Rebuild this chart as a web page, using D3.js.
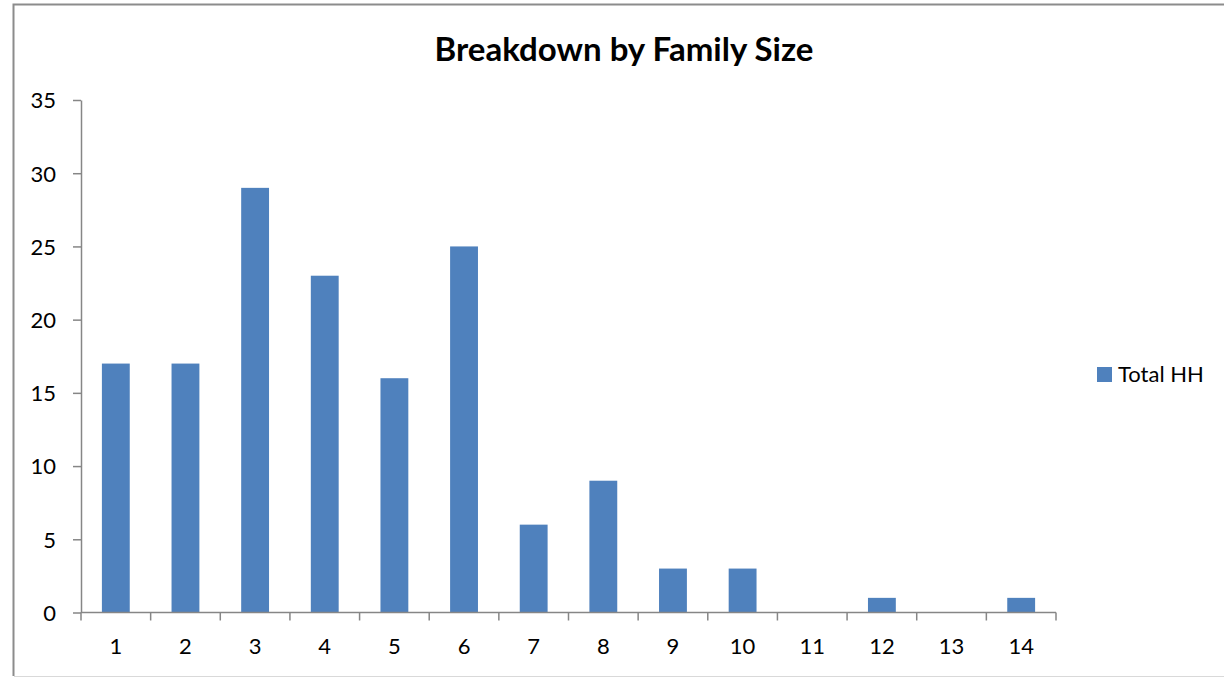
<!DOCTYPE html>
<html lang="en">
<head>
  <meta charset="UTF-8">
  <title>Breakdown by Family Size</title>
  <script src="https://d3js.org/d3.v7.min.js"></script>
  <style>
    body { margin: 0; background: #fff; }
    svg text { font-family: Lato, "Open Sans", sans-serif; fill: #000; }
  </style>
</head>
<body>
  <div id="chart"></div>
  <script>
    // family sizes and household counts
    const familySizes = ['1', '2', '3', '4', '5', '6', '7', '8', '9', '10', '11', '12', '13', '14'];
    const totalHH = [17, 17, 29, 23, 16, 25, 6, 9, 3, 3, 0, 1, 0, 1];
    const yTicks = [0, 5, 10, 15, 20, 25, 30, 35];
    const seriesName = 'Total HH';

    const width = 1224, height = 677;
    const margin = { left: 81, right: 168, top: 100, bottom: 64.5 };

    const svg = d3.select('#chart')
      .append('svg')
      .attr('width', width)
      .attr('height', height);

    // outer chart frame
    svg.append('path')
      .attr('d', `M1224,4.5 H13.5 V676`)
      .attr('fill', 'none')
      .attr('stroke', '#8c8c8c')
      .attr('stroke-width', 2);
    svg.append('line')
      .attr('x1', 14).attr('x2', 1224)
      .attr('y1', 676.5).attr('y2', 676.5)
      .attr('stroke', '#d9d9d9');

    const x = d3.scaleBand()
      .domain(familySizes)
      .range([margin.left, width - margin.right])
      .paddingInner(0.6)
      .paddingOuter(0.3);

    const y = d3.scaleLinear()
      .domain([0, 35])
      .range([height - margin.bottom, margin.top]);

    // bars
    svg.selectAll('rect.bar')
      .data(totalHH)
      .enter()
      .append('rect')
      .attr('class', 'bar')
      .attr('x', (d, i) => x(familySizes[i]))
      .attr('y', d => y(d))
      .attr('width', x.bandwidth())
      .attr('height', d => y(0) - y(d))
      .attr('fill', '#4f81bd');

    // y axis
    const yAxis = svg.append('g')
      .attr('transform', `translate(${margin.left},0)`)
      .call(d3.axisLeft(y).tickValues(yTicks).tickSize(8).tickPadding(17).tickSizeOuter(0));
    yAxis.selectAll('text').style('font-size', '22px').attr('dy', '0.36em');
    yAxis.select('.domain').attr('stroke', '#868686').attr('stroke-width', 1.5);
    yAxis.selectAll('.tick line').attr('stroke', '#868686').attr('stroke-width', 1.5);

    // x axis with ticks between categories
    const xBoundaries = d3.range(familySizes.length + 1).map(i => margin.left + i * (width - margin.left - margin.right) / familySizes.length);
    const xAxis = svg.append('g')
      .attr('transform', `translate(0,${y(0)})`);
    xAxis.append('line')
      .attr('x1', margin.left).attr('x2', width - margin.right)
      .attr('stroke', '#868686').attr('stroke-width', 1.5);
    xAxis.selectAll('line.tick')
      .data(xBoundaries)
      .enter()
      .append('line')
      .attr('class', 'tick')
      .attr('x1', d => d).attr('x2', d => d)
      .attr('y1', 0).attr('y2', 8)
      .attr('stroke', '#868686').attr('stroke-width', 1.5);
    xAxis.selectAll('text')
      .data(familySizes)
      .enter()
      .append('text')
      .attr('x', d => x(d) + x.bandwidth() / 2)
      .attr('y', 41.5)
      .attr('text-anchor', 'middle')
      .style('font-size', '22px')
      .text(d => d);

    // title
    svg.append('text')
      .attr('x', 624)
      .attr('y', 61)
      .attr('text-anchor', 'middle')
      .style('font-size', '33px')
      .style('font-weight', 'bold')
      .text('Breakdown by Family Size');

    // legend
    const legend = svg.append('g').attr('transform', 'translate(1097,367)');
    legend.append('rect')
      .attr('width', 15).attr('height', 15)
      .attr('fill', '#4f81bd');
    legend.append('text')
      .attr('x', 21).attr('y', 15)
      .style('font-size', '22px')
      .text(seriesName);
  </script>
</body>
</html>
